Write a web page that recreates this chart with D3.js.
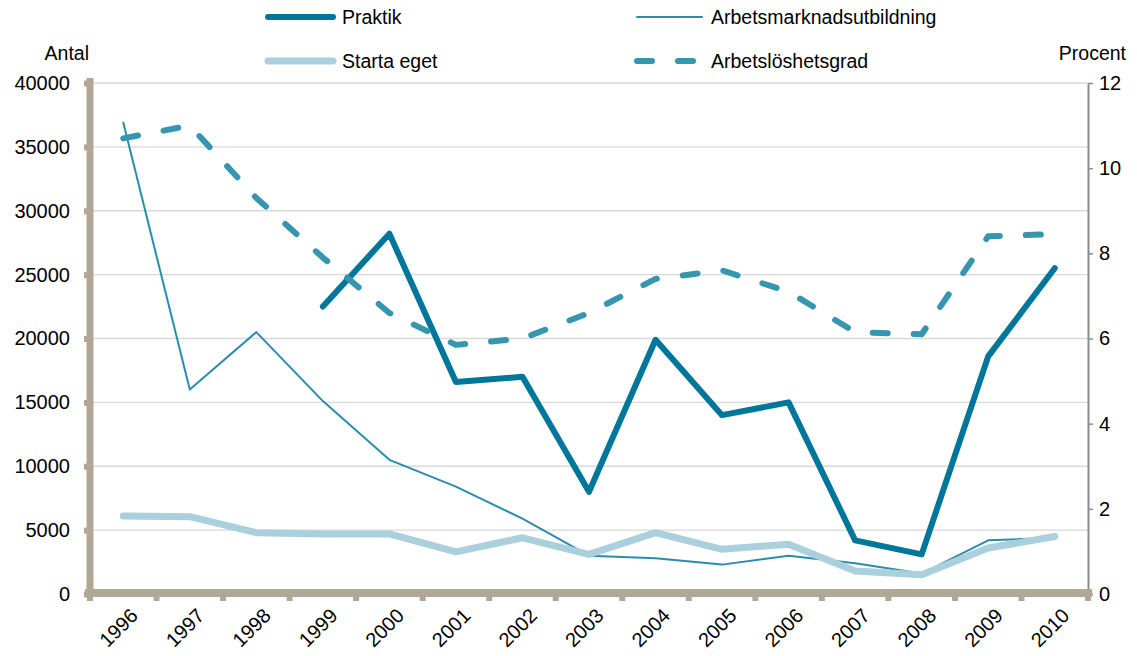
<!DOCTYPE html>
<html>
<head>
<meta charset="utf-8">
<script src="https://cdn.jsdelivr.net/npm/d3@7"></script>
<style>
  body { margin: 0; background: #fff; }
  svg text { font-family: "Liberation Sans", Arial, sans-serif; fill: #000; }
</style>
</head>
<body>
<div id="chart"></div>
<script>
// data
const years = ["1996","1997","1998","1999","2000","2001","2002","2003","2004","2005","2006","2007","2008","2009","2010"];
const praktik = [null, null, null, 22500, 28200, 16600, 17000, 8000, 19900, 14000, 15000, 4200, 3100, 18600, 25500];
const arbetsmarknad = [36900, 16000, 20500, 15100, 10500, 8400, 5900, 3000, 2800, 2300, 3000, 2400, 1600, 4200, 4400];
const startaEget = [6100, 6050, 4800, 4700, 4700, 3300, 4400, 3100, 4800, 3500, 3900, 1800, 1500, 3600, 4500];
const arbetsloshet = [10.7, 11.0, 9.3, 7.9, 6.6, 5.85, 6.0, 6.6, 7.4, 7.6, 7.1, 6.15, 6.1, 8.4, 8.45];
const leftTicks = [0, 5000, 10000, 15000, 20000, 25000, 30000, 35000, 40000];
const rightTicks = [0, 2, 4, 6, 8, 10, 12];

const width = 1137, height = 656;
const plotL = 90, plotR = 1088, plotT = 83, plotB = 594;
const axisColor = "#b1a797";

const svg = d3.select("#chart")
  .append("svg")
  .attr("width", width)
  .attr("height", height)
  .style("font-size", "19.5px");

const x = d3.scaleBand().domain(years).range([plotL, plotR]);
const yL = d3.scaleLinear().domain([0, 40000]).range([plotB, plotT]);
const yR = d3.scaleLinear().domain([0, 12]).range([plotB, plotT]);
const cx = d => x(d) + x.bandwidth() / 2;

// gridlines
svg.append("g")
  .selectAll("line")
  .data(leftTicks.filter(d => d > 0))
  .enter()
  .append("line")
  .attr("x1", plotL + 3)
  .attr("x2", plotR)
  .attr("y1", d => yL(d))
  .attr("y2", d => yL(d))
  .attr("stroke", "#d9d9d9")
  .attr("stroke-width", 1.3);

// left axis
const gL = svg.append("g")
  .attr("transform", `translate(${plotL},0)`)
  .call(d3.axisLeft(yL).tickValues(leftTicks).tickFormat(d3.format("d"))
    .tickSize(6).tickSizeOuter(0).tickPadding(14));
gL.select(".domain").remove();
gL.append("line")
  .attr("x1", 0).attr("x2", 0)
  .attr("y1", plotT - 5).attr("y2", plotB)
  .attr("stroke", axisColor)
  .attr("stroke-width", 7);
gL.selectAll(".tick line").attr("stroke", axisColor).attr("stroke-width", 6);
gL.selectAll(".tick text").style("font-size", "20px").attr("fill", "#000");

// right axis
const gR = svg.append("g")
  .attr("transform", `translate(${plotR},0)`)
  .call(d3.axisRight(yR).tickValues(rightTicks).tickSize(5).tickSizeOuter(0).tickPadding(6));
gR.select(".domain").attr("stroke", "#8c8c8c").attr("stroke-width", 2);
gR.selectAll(".tick line").attr("stroke", "#8c8c8c").attr("stroke-width", 1.5);
gR.selectAll(".tick text").style("font-size", "20px").attr("fill", "#000");

// bottom axis
const bounds = years.map(d => x(d)).concat([plotR]);
const gB = svg.append("g");
gB.selectAll("line.tick")
  .data(bounds)
  .enter()
  .append("line")
  .attr("class", "tick")
  .attr("x1", d => d).attr("x2", d => d)
  .attr("y1", plotB).attr("y2", plotB + 7)
  .attr("stroke", axisColor)
  .attr("stroke-width", 6);
gB.append("line")
  .attr("x1", plotL - 5).attr("x2", plotR + 4)
  .attr("y1", plotB - 1).attr("y2", plotB - 1)
  .attr("stroke", axisColor)
  .attr("stroke-width", 8);
gB.selectAll("text")
  .data(years)
  .enter()
  .append("text")
  .attr("text-anchor", "end")
  .style("font-size", "20px")
  .attr("transform", d => `translate(${cx(d) + 6},${plotB + 13}) rotate(-45)`)
  .attr("dy", "0.7em")
  .text(d => d);

// axis titles
svg.append("text")
  .attr("x", 89).attr("y", 53).attr("dy", "0.35em")
  .attr("text-anchor", "end")
  .text("Antal");
svg.append("text")
  .attr("x", 1126).attr("y", 53).attr("dy", "0.35em")
  .attr("text-anchor", "end")
  .text("Procent");

// series
const lineL = d3.line()
  .defined(d => d.v != null)
  .x(d => cx(d.year))
  .y(d => yL(d.v));
const lineR = d3.line()
  .x(d => cx(d.year))
  .y(d => yR(d.v));
const pairs = arr => years.map((year, i) => ({year: year, v: arr[i]}));

const series = [
  {name: "Praktik", data: praktik, line: lineL, color: "#00769a", w: 6, dash: null},
  {name: "Arbetsmarknadsutbildning", data: arbetsmarknad, line: lineL, color: "#2b8dab", w: 2, dash: null},
  {name: "Starta eget", data: startaEget, line: lineL, color: "#a9d0dc", w: 7, dash: null},
  {name: "Arbetslöshetsgrad", data: arbetsloshet, line: lineR, color: "#3695af", w: 6, dash: "15 26"}
];

series.forEach(s => {
  svg.append("path")
    .datum(pairs(s.data))
    .attr("fill", "none")
    .attr("stroke", s.color)
    .attr("stroke-width", s.w)
    .attr("stroke-linejoin", "round")
    .attr("stroke-linecap", "round")
    .attr("stroke-dasharray", s.dash)
    .attr("d", s.line);
});

// legend
const legendPos = [
  {x: 265, y: 17},
  {x: 634, y: 17},
  {x: 265, y: 61},
  {x: 634, y: 61}
];
series.forEach((s, i) => {
  const p = legendPos[i];
  const g = svg.append("g").attr("transform", `translate(${p.x},${p.y})`);
  g.append("line")
    .attr("x1", 3).attr("x2", 68)
    .attr("stroke", s.color)
    .attr("stroke-width", s.w)
    .attr("stroke-linecap", "round")
    .attr("stroke-dasharray", s.dash);
  g.append("text")
    .attr("x", 77)
    .attr("dy", "0.35em")
    .text(s.name);
});
</script>
</body>
</html>
